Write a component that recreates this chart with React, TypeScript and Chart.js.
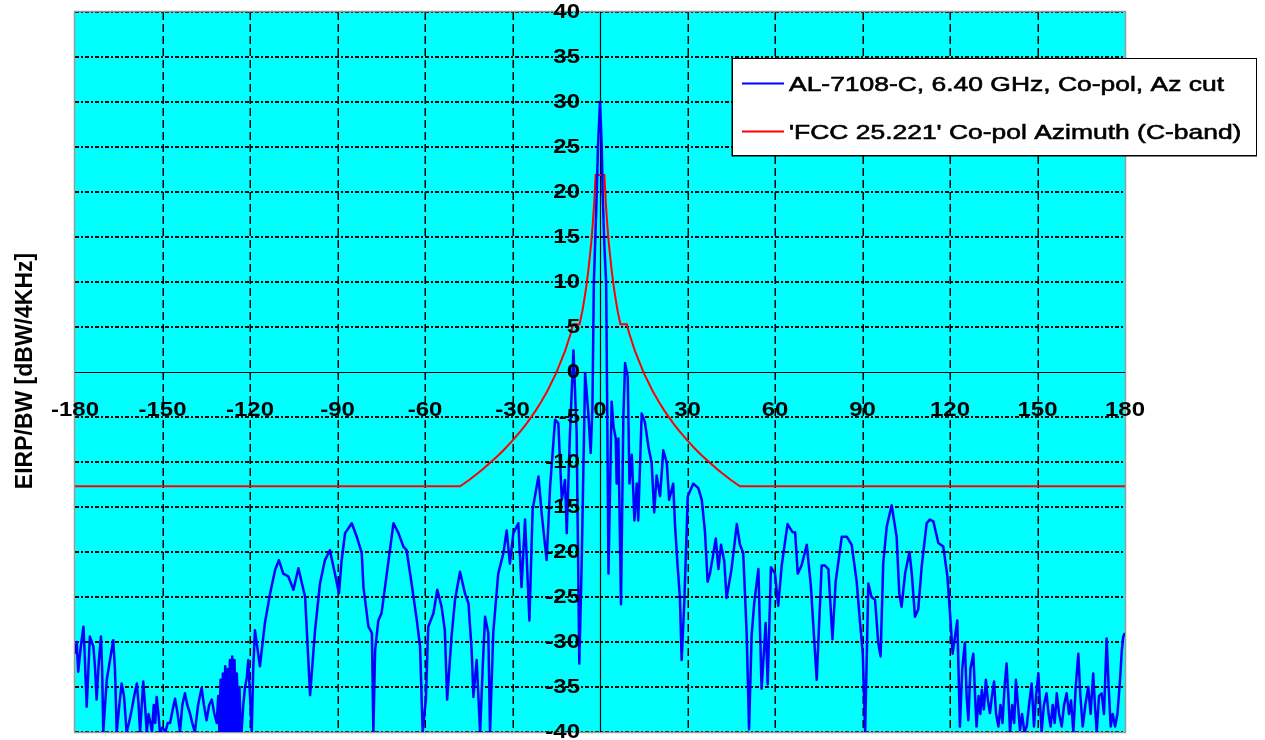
import React, { useEffect, useRef } from 'react';
import { Chart, registerables } from 'chart.js';

Chart.register(...registerables);

// ---------- data ----------
const PATTERN_ANGLES = [
  -180, -179.4, -178.9, -178, -177.1, -176.6, -176, -175.4, -174.9, -174.3, -173.7, -173.1, -172.6, -171.8, -171.1, -170.7, -170.3, -169.7, -169.1, -168, -166.9, -166.3, -165.7, -164.8, -164, -163.2, -162.3, -161.5, -160.6, -159.7, -158.8, -158.2, -157.7, -157.1, -156.6, -156, -155.4, -154.8, -154.3, -153.6, -153, -152.5, -152, -151.4, -150.9, -150, -149, -148.2, -147.4, -146.5, -145.7, -144.8, -144, -143.2, -142.3, -141.5, -140.6, -139.8, -138.9, -137.8, -136.6, -135.8, -134.9, -134, -133.1, -132.2, -131.4, -130.9, -130.5, -130.1, -129.7, -129.3, -128.9, -128.5, -128.1, -127.7, -127.3, -126.9, -126.5, -126.1, -125.7, -125.3, -124.9, -124.5, -124, -123.6, -123.2, -122.9, -122.3, -121.7, -121.1, -120.6, -120, -119.4, -118.9, -118.3, -116.6, -114.9, -113.1, -111.4, -110.1, -108.6, -106.9, -105.1, -103.4, -101.1, -99.4, -97.7, -96, -94.3, -92.6, -90.9, -89.5, -88.6,
  -87.4, -85.1, -83.4, -81.7, -81.1, -79.4, -78.2, -77.7, -77.1, -76, -74.9, -73.1, -70.8, -69.1, -67.4, -66.3, -64.6, -62.8, -61.7, -60.8, -59.7, -58.9, -57.1, -55.8, -54.3, -53.2, -52.4, -50.9, -49.7, -48, -46.3, -45.1, -44, -43.4, -42.3, -41.1, -40.2, -39.4, -38.3, -37.7, -36.6, -34.9, -33.1, -32, -30.9, -29.7, -28, -26.9, -25.7, -24.2, -23.1, -21.1, -20, -18.3, -17.1, -15.4, -14.3, -13.1, -12, -11.4, -10.3, -9.1, -8, -7.1, -6.3, -5.1, -4, -3.2, -2.6, -2.1, -1.1, -0.7, 0, 0.6, 0.9, 1.5, 2.1, 2.5, 2.9,
  4, 4.6, 5.4, 5.7, 6.3, 7.2, 8, 8.6, 9.5, 10.1, 10.9, 11.8, 12.6, 13.1, 14.3, 15.4, 16.6, 17.7, 18.6, 19.4, 20.6, 21.7, 22.9, 23.7, 25.1, 25.7, 26.6, 27.4, 28, 28.9, 30.1, 32, 33.7, 34.9, 36, 36.9, 37.7, 38.9, 39.7, 40.6, 41.5, 42.6, 43.4, 45.1, 46.9, 48, 49.1, 50.3, 51.1, 52, 52.9, 54.3, 55.4, 56.8, 57.5, 58.6, 60, 61.1, 62.3, 64.3, 66, 66.9, 67.8, 69.1, 70.9, 72.3, 74.3, 76, 77.1, 78.3, 79.7, 80.8, 82.9, 84.6, 86.3, 88,
  89.1, 90.1, 90.9, 92, 93.1, 94.3, 95.4, 96.2, 97.1, 98.3, 100, 101.7, 102.6, 103.4, 104.6, 106.1, 106.9, 108, 109.1, 110.3, 112, 113.1, 114.3, 116, 117.7, 119.1, 120, 120.9, 122.5,
  123.4, 124.2, 125.1, 125.7, 126.3, 127, 128, 128.6, 129.1, 129.8, 130.4, 130.9, 131.6, 132.3, 133, 133.7, 134.4, 135.1, 135.8, 136.6, 137.3, 138, 138.7, 139.4, 140, 140.6, 141.3, 142, 142.6, 143.3, 144, 144.7, 145.5, 146.3, 147.1, 148, 148.8, 149.5, 150.3, 150.9, 151.4, 152.2, 153.1, 153.8, 154.5, 155.2, 155.9, 156.6, 157.4, 158.3, 159.1, 160, 160.8, 161.5, 162.3, 163.1, 164, 164.7, 165.5, 166.4, 167.4, 168.2, 169.1, 169.7, 170.3, 171.1, 172, 172.8, 173.7, 174.4, 175.1, 175.8, 176.6, 177.4, 178.3, 178.9, 179.4, 180,
];

const PATTERN_VALUES = [
  -31.3, -30, -33.3, -30.5, -28.3, -32, -37.2, -33, -29.4, -30, -30.5, -33, -36.4, -32, -29.4, -33, -40, -37, -34.2, -32, -29.8, -33, -40, -37, -34.6, -36, -40, -39, -37.6, -36, -34.6, -37, -40, -37, -34.4, -37, -40, -38, -38.7, -40, -37, -39, -36.1, -38, -40, -39.5, -40, -39, -39, -37.5, -36.3, -38, -40, -37, -35.7, -37, -37.9, -39, -40, -37, -35.1, -37, -38.7, -37, -36.4, -38, -39, -36, -40, -34.2, -40, -33.5, -40, -32.7, -40, -33, -40, -32, -40, -31.6, -40, -32, -40, -33.5, -40, -35, -40, -40, -37, -35, -34, -32, -36, -40, -33, -28.7, -32.7, -27.9, -24.6, -22, -20.9, -22.4, -22.7, -24.2, -21.8, -25, -35.9, -28.7, -23.5, -20.9, -19.8, -22.4, -24.6, -21,
  -17.9, -16.8, -18.3, -20.1, -23.9, -28.3, -29, -40, -30.9, -27.6, -26.8, -22.4, -16.8, -17.9, -19.4, -19.8, -23.5, -27.6, -30.5, -40, -36.4, -28.3, -26.8, -24.2, -26.1, -28.7, -36.4, -29.4, -25.3, -22.2, -24.6, -25.7, -30.9, -36.1, -32, -40, -32.7, -27.2, -29, -40, -29, -22.4, -20.1, -17.6, -21.3, -17.9, -16.8, -23.9, -16.4, -27.6, -15.3, -11.6, -15.7, -20.9, -12.7, -5.3, -5.7, -14.2, -12, -17.9, -6.8, 2.4, -6.8, -32.4, -21.6, -0.1, -4.6, -9, -4, 10, 20, 25, 30, 25, 20, 14, 10, -5, -22.4,
  -3.3, -6, -7.4, -12.4, -7.4, -25.8, -5.1, 1, -0.5, -12.4, -9.2, -16.5, -12.4, -16.5, -4.6, -5.6, -8.3, -10.1, -15.6, -11.5, -13.8, -8.7, -10.1, -14.2, -12.4, -16.9, -21.5, -25.1, -32, -25.6, -13.8, -12.4, -12.9, -14.2, -17.8, -23.3, -22.4, -20.1, -18.5, -21.9, -19.2, -21, -25.1, -21.9, -16.9, -19.2, -20.1, -29.2, -39.7, -29.2, -25.6, -21.9, -35.2, -27.9, -34.7, -21.7, -22.4, -26, -21.5, -16.9, -17.8, -17.8, -22.4, -21.5, -19.2, -23.8, -34.2, -21.5, -21.5, -21.9, -29.7, -23.3, -18.3, -18.3, -19.2, -23.3,
  -27.6, -31.3, -40, -23.5, -25, -25.3, -30.1, -31.6, -21.3, -17.2, -14.8, -18.3, -24.6, -26.1, -22.4, -20, -22.4, -27.2, -26.4, -21.6, -16.8, -16.4, -16.6, -19, -19.4, -22.7, -26.8, -31.3, -27.6,
  -39.4, -33, -30.1, -36, -38.7, -33, -31.3, -36, -39.4, -36, -38, -35.3, -37.5, -34.2, -36.5, -37.9, -36, -34.4, -38, -39.4, -37, -39, -35, -32.4, -36, -40, -37, -39, -34.2, -37, -39.8, -38, -40, -39.4, -37, -34.6, -39.4, -36, -33.5, -37, -40, -37, -35.7, -38, -39.4, -37, -39, -35.7, -38, -39.4, -37, -35.7, -38, -36.5, -40, -35, -31.3, -36, -39.4, -37, -35, -38, -33.5, -37, -40, -36, -35.7, -38, -29.6, -35, -39.4, -38, -39.4, -38, -34.2, -31, -29.4, -29,
];

const MASK_ANGLES = [-180, -48, -45, -42, -40, -37, -35, -33, -30, -27, -25, -22, -20, -18, -15, -12, -10, -9.2, -7, -6, -5, -4, -3, -2.5, -2, -1.5, 1.5, 2, 2.5, 3, 4, 5, 6, 7, 9.2, 10, 12, 15, 18, 20, 22, 25, 27, 30, 33, 35, 37, 40, 42, 45, 48, 180];
const MASK_VALUES = [-12.7, -12.7, -12.03, -11.28, -10.75, -9.9, -9.3, -8.66, -7.63, -6.48, -5.65, -4.26, -3.23, -2.08, -0.1, 2.32, 4.3, 5.3, 5.3, 6.85, 8.83, 11.25, 14.37, 16.35, 18.77, 21.9, 21.9, 18.77, 16.35, 14.37, 11.25, 8.83, 6.85, 5.3, 5.3, 4.3, 2.32, -0.1, -2.08, -3.23, -4.26, -5.65, -6.48, -7.63, -8.66, -9.3, -9.9, -10.75, -11.28, -12.03, -12.7, -12.7];

const X_TICKS = [-180, -150, -120, -90, -60, -30, 0, 30, 60, 90, 120, 150, 180];
const Y_TICKS = [40, 35, 30, 25, 20, 15, 10, 5, 0, -5, -10, -15, -20, -25, -30, -35, -40];
const SERIES_NAMES = ['AL-7108-C, 6.40 GHz, Co-pol, Az cut', "'FCC 25.221' Co-pol Azimuth (C-band)"];
const SERIES_COLORS = ['#0000FF', '#FF0000'];
const Y_TITLE = 'EIRP/BW [dBW/4KHz]';

const FONT = '"Liberation Sans", Arial, sans-serif';

function drawText(ctx: CanvasRenderingContext2D, text: string, x: number, y: number, sx: number, align: CanvasTextAlign, strokeW = 0) {
  ctx.save();
  ctx.translate(x, y);
  ctx.scale(sx, 1);
  ctx.textAlign = align;
  ctx.textBaseline = 'alphabetic';
  ctx.fillText(text, 0, 0);
  if (strokeW > 0) {
    ctx.lineWidth = strokeW;
    ctx.strokeStyle = ctx.fillStyle as string;
    ctx.strokeText(text, 0, 0);
  }
  ctx.restore();
}

const decorPlugin = {
  id: 'decor',
  beforeDatasetsDraw(chart: any) {
    const { ctx, chartArea: a, scales } = chart;
    const xs = scales.x;
    const ys = scales.y;
    ctx.save();
    ctx.fillStyle = '#00FFFF';
    ctx.fillRect(a.left, a.top, a.right - a.left, a.bottom - a.top);

    // horizontal dash-dot grid
    ctx.strokeStyle = '#000000';
    ctx.lineWidth = 2;
    ctx.setLineDash([4, 2, 2, 2]);
    for (const v of Y_TICKS) {
      if (v === 0) continue;
      const py = Math.round(ys.getPixelForValue(v));
      ctx.beginPath();
      ctx.moveTo(a.left, py);
      ctx.lineTo(a.right, py);
      ctx.stroke();
    }
    // vertical dashed grid
    ctx.lineWidth = 1.5;
    ctx.setLineDash([8, 4]);
    for (const v of X_TICKS) {
      if (v === 0 || v === -180 || v === 180) continue;
      const px = Math.round(xs.getPixelForValue(v)) + 0.25;
      ctx.beginPath();
      ctx.moveTo(px, a.top);
      ctx.lineTo(px, a.bottom);
      ctx.stroke();
    }
    ctx.setLineDash([]);
    // frame
    ctx.strokeStyle = '#9a9a9a';
    ctx.lineWidth = 1.5;
    ctx.strokeRect(a.left - 0.5, a.top - 0.5, a.right - a.left + 1, a.bottom - a.top + 1);
    // axes through zero
    ctx.strokeStyle = '#000000';
    ctx.lineWidth = 1.2;
    const x0 = Math.round(xs.getPixelForValue(0)) + 0.5;
    const y0 = Math.round(ys.getPixelForValue(0)) + 0.5;
    ctx.beginPath();
    ctx.moveTo(a.left, y0);
    ctx.lineTo(a.right, y0);
    ctx.moveTo(x0, a.top);
    ctx.lineTo(x0, a.bottom);
    ctx.stroke();
    ctx.restore();
  },
  afterDatasetsDraw(chart: any) {
    const { ctx, scales } = chart;
    const xs = scales.x;
    const ys = scales.y;
    const x0 = xs.getPixelForValue(0);
    const y0 = ys.getPixelForValue(0);
    ctx.save();
    ctx.fillStyle = '#000000';
    const fs = 20;
    ctx.font = `bold ${fs}px ${FONT}`;
    const sx = 1.2;
    const digitMid = 0.358 * fs;
    for (const v of Y_TICKS) {
      const py = ys.getPixelForValue(v) - 1;
      drawText(ctx, String(v), x0 - 20, py + digitMid, sx, 'right');
    }
    for (const v of X_TICKS) {
      const px = xs.getPixelForValue(v);
      drawText(ctx, String(v), px, y0 + 37 + digitMid, sx, 'center');
    }
    ctx.restore();
  },
  afterDraw(chart: any) {
    const { ctx } = chart;
    ctx.save();
    // y axis title
    ctx.fillStyle = '#000000';
    ctx.font = `bold 23px ${FONT}`;
    ctx.translate(32, 371);
    ctx.rotate(-Math.PI / 2);
    ctx.textAlign = 'center';
    ctx.textBaseline = 'alphabetic';
    ctx.fillText(Y_TITLE, 0, 0);
    ctx.restore();

    // legend
    ctx.save();
    const bx = 732, by = 58, bw = 524, bh = 97;
    ctx.fillStyle = '#FFFFFF';
    ctx.fillRect(bx, by, bw, bh);
    ctx.strokeStyle = '#000000';
    ctx.lineWidth = 1;
    ctx.strokeRect(bx + 0.5, by + 0.5, bw, bh);
    ctx.fillStyle = '#000000';
    ctx.fillRect(bx - 0.5, by, 1.5, bh + 1.5);
    ctx.fillRect(bx, by + bh, bw + 1, 1.5);
    const lfs = 21;
    ctx.font = `${lfs}px ${FONT}`;
    const w1 = ctx.measureText(SERIES_NAMES[0]).width;
    const lsx = 435 / w1;
    const rows = [83.5, 131.5];
    SERIES_NAMES.forEach((name, i) => {
      const ry = rows[i];
      ctx.strokeStyle = SERIES_COLORS[i];
      ctx.lineWidth = 2;
      ctx.beginPath();
      ctx.moveTo(742, ry);
      ctx.lineTo(784, ry);
      ctx.stroke();
      ctx.fillStyle = '#000000';
      drawText(ctx, name, 789, ry + 0.358 * lfs, lsx, 'left', 0.6);
    });
    ctx.restore();
  },
};

export default function App() {
  const canvasRef = useRef<HTMLCanvasElement | null>(null);

  useEffect(() => {
    document.body.style.margin = '0';
    const canvas = canvasRef.current;
    if (!canvas) return;
    const pattern = PATTERN_ANGLES.map((a, i) => ({ x: a, y: PATTERN_VALUES[i] }));
    const mask = MASK_ANGLES.map((a, i) => ({ x: a, y: MASK_VALUES[i] }));
    const chart = new Chart(canvas, {
      type: 'line',
      data: {
        datasets: [
          {
            label: SERIES_NAMES[0],
            data: pattern,
            borderColor: SERIES_COLORS[0],
            borderWidth: 2.5,
            borderJoinStyle: 'round',
            pointRadius: 0,
            tension: 0,
            fill: false,
          },
          {
            label: SERIES_NAMES[1],
            data: mask,
            borderColor: SERIES_COLORS[1],
            borderWidth: 2,
            pointRadius: 0,
            tension: 0,
            fill: false,
          },
        ],
      },
      options: {
        animation: false,
        responsive: false,
        maintainAspectRatio: false,
        layout: { padding: { left: 75, right: 140, top: 12, bottom: 8 } },
        plugins: {
          legend: { display: false },
          tooltip: { enabled: false },
        },
        scales: {
          x: { type: 'linear', min: -180, max: 180, display: false },
          y: { type: 'linear', min: -40, max: 40, display: false },
        },
      },
      plugins: [decorPlugin],
    });
    return () => chart.destroy();
  }, []);

  return (
    <div style={{ width: 1265, height: 740, background: '#FFFFFF' }}>
      <canvas ref={canvasRef} width={1265} height={740} style={{ display: 'block' }} />
    </div>
  );
}
